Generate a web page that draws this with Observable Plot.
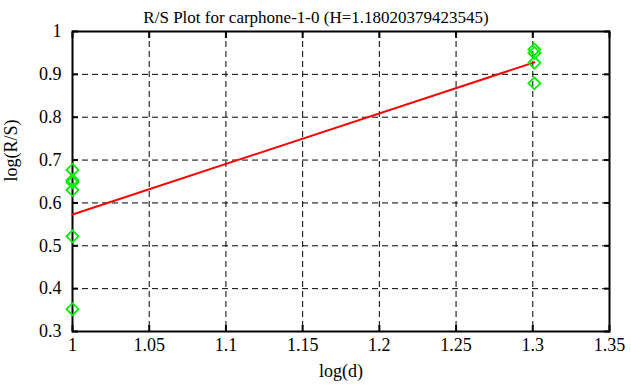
<!DOCTYPE html>
<html>
<head>
<meta charset="utf-8">
<script src="https://cdn.jsdelivr.net/npm/d3@7"></script>
<script src="https://cdn.jsdelivr.net/npm/@observablehq/plot@0.6"></script>
<style>
html, body { margin: 0; padding: 0; background: #fff; }
#chart svg { display: block; }
#chart svg text { font-family: "Liberation Serif", "Times New Roman", serif; }
</style>
</head>
<body>
<div id="chart"></div>
<script>
const titleText = "R/S Plot for carphone-1-0 (H=1.18020379423545)";
const xLabel = "log(d)";
const yLabel = "log(R/S)";

// scatter points
const pointX = [1, 1, 1, 1, 1, 1, 1.30103, 1.30103, 1.30103, 1.30103];
const pointY = [0.677, 0.653, 0.648, 0.630, 0.522, 0.352, 0.958, 0.950, 0.927, 0.879];

// fitted line
const lineX = [1, 1.30103];
const lineY = [0.573, 0.928];

const xTicks = [1, 1.05, 1.1, 1.15, 1.2, 1.25, 1.3, 1.35];
const yTicks = [0.3, 0.4, 0.5, 0.6, 0.7, 0.8, 0.9, 1];

const points = pointX.map((x, i) => ({x, y: pointY[i]}));
const line = lineX.map((x, i) => ({x, y: lineY[i]}));

const font = "'Liberation Serif', 'Times New Roman', serif";

const chart = Plot.plot({
  width: 631,
  height: 387,
  marginLeft: 72,
  marginRight: 22,
  marginTop: 31,
  marginBottom: 56,
  style: {fontFamily: font, fontSize: "18px", color: "#000", background: "#fff"},
  x: {domain: [1, 1.35]},
  y: {domain: [0.3, 1]},
  marks: [
    Plot.gridX(xTicks, {stroke: "#000", strokeOpacity: 1, strokeWidth: 1, strokeDasharray: "6,4"}),
    Plot.gridY(yTicks, {stroke: "#000", strokeOpacity: 1, strokeWidth: 1, strokeDasharray: "6,4"}),
    Plot.axisX(xTicks, {anchor: "bottom", tickSize: -6, tickPadding: 13, strokeWidth: 2, tickFormat: d => String(d), label: null, fontSize: 18, fontFamily: font}),
    Plot.axisX(xTicks, {anchor: "top", tickSize: -6, strokeWidth: 2, tickFormat: () => "", label: null}),
    Plot.axisY(yTicks, {anchor: "left", tickSize: -6, tickPadding: 17, strokeWidth: 2, tickFormat: d => String(d), label: null, fontSize: 18, fontFamily: font}),
    Plot.axisY(yTicks, {anchor: "right", tickSize: -6, strokeWidth: 2, tickFormat: () => "", label: null}),
    Plot.frame({stroke: "#000", strokeWidth: 2}),
    Plot.line(line, {x: "x", y: "y", stroke: "#ff0000", strokeWidth: 2}),
    Plot.dot(points, {x: "x", y: "y", symbol: "diamond2", r: 5.4, stroke: "#00ee00", strokeWidth: 1.8, fill: "none"}),
    Plot.text([titleText], {frameAnchor: "top", dx: -25, dy: -21, fontSize: 17, fill: "#000", fontFamily: font}),
    Plot.text([xLabel], {frameAnchor: "bottom", dy: 45, fontSize: 18, fill: "#000", fontFamily: font}),
    Plot.text([yLabel], {frameAnchor: "left", dx: -61, rotate: -90, fontSize: 18, fill: "#000", fontFamily: font})
  ]
});
document.getElementById("chart").appendChild(chart);
</script>
</body>
</html>
